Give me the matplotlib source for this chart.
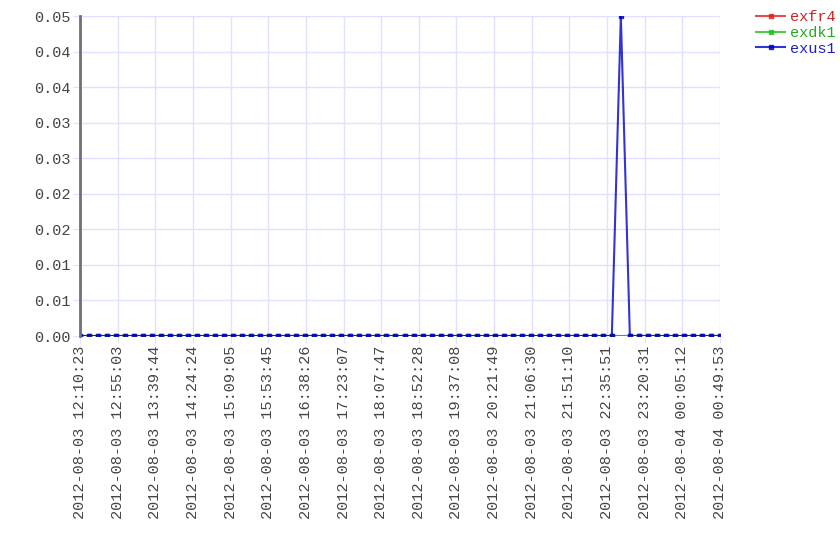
import matplotlib
matplotlib.use("Agg")
from matplotlib import pyplot as plt
import matplotlib.dates as mdates
import numpy as np
import pandas as pd

# sample times: 72 readings between these two stamps
start = "2012-08-03 12:10:23"
end = "2012-08-04 00:49:53"
n_points = 72
times = pd.date_range(start, end, periods=n_points)

exfr4 = [0.0] * 60 + [None] + [0.0] * 11
exdk1 = [0.0] * 60 + [None] + [0.0] * 11
exus1 = [0.0] * 60 + [0.05] + [0.0] * 11

series = [
    ("exfr4", exfr4, "#e02020", "#cc2222"),
    ("exdk1", exdk1, "#20c020", "#22aa22"),
    ("exus1", exus1, "#0000cc", "#2222bb"),
]

plt.rcParams["font.family"] = ["Liberation Mono", "DejaVu Sans Mono"]

fig = plt.figure(figsize=(8.4, 5.6), dpi=100)
ax = fig.add_axes([80 / 840, 1 - 336 / 560, 640 / 840, 320 / 560])

handles = []
for name, vals, col, tcol in series:
    x = [t for t, v in zip(times, vals) if v is not None]
    y = [v for v in vals if v is not None]
    h, = ax.plot(x, y, color=col, linewidth=1.5, marker="s", markersize=2.5,
                 alpha=0.8, label=name)
    handles.append(h)

ax.set_xlim(times[0], times[-1])
ax.set_ylim(0, 0.05)

yt = np.linspace(0, 0.05, 10)
ax.set_yticks(yt)
ax.set_yticklabels(["%.2f" % v for v in yt])

xt = pd.date_range(start, end, periods=18)
ax.set_xticks(mdates.date2num(xt.to_pydatetime()))
ax.set_xticklabels([t.strftime("%Y-%m-%d %H:%M:%S") for t in xt], rotation=90)

ax.grid(True, color="#e0e0ff", linewidth=1)
ax.set_axisbelow(True)
for s in ["top", "right", "bottom"]:
    ax.spines[s].set_visible(False)
ax.spines["left"].set_color("#707078")
ax.spines["left"].set_linewidth(2)
ax.tick_params(axis="both", colors="#e0e0ff", length=5, labelcolor="#444444",
               labelsize=11, pad=2)

leg = fig.legend(handles=handles, loc="upper left", bbox_to_anchor=(750 / 840, 1 - 4 / 560),
                 frameon=False, fontsize=11, handlelength=1.9, handletextpad=0.35,
                 labelspacing=0.12, borderaxespad=0)
for txt, (_, _, _, tcol) in zip(leg.get_texts(), series):
    txt.set_color(tcol)

plt.savefig("out.png", dpi=100)
